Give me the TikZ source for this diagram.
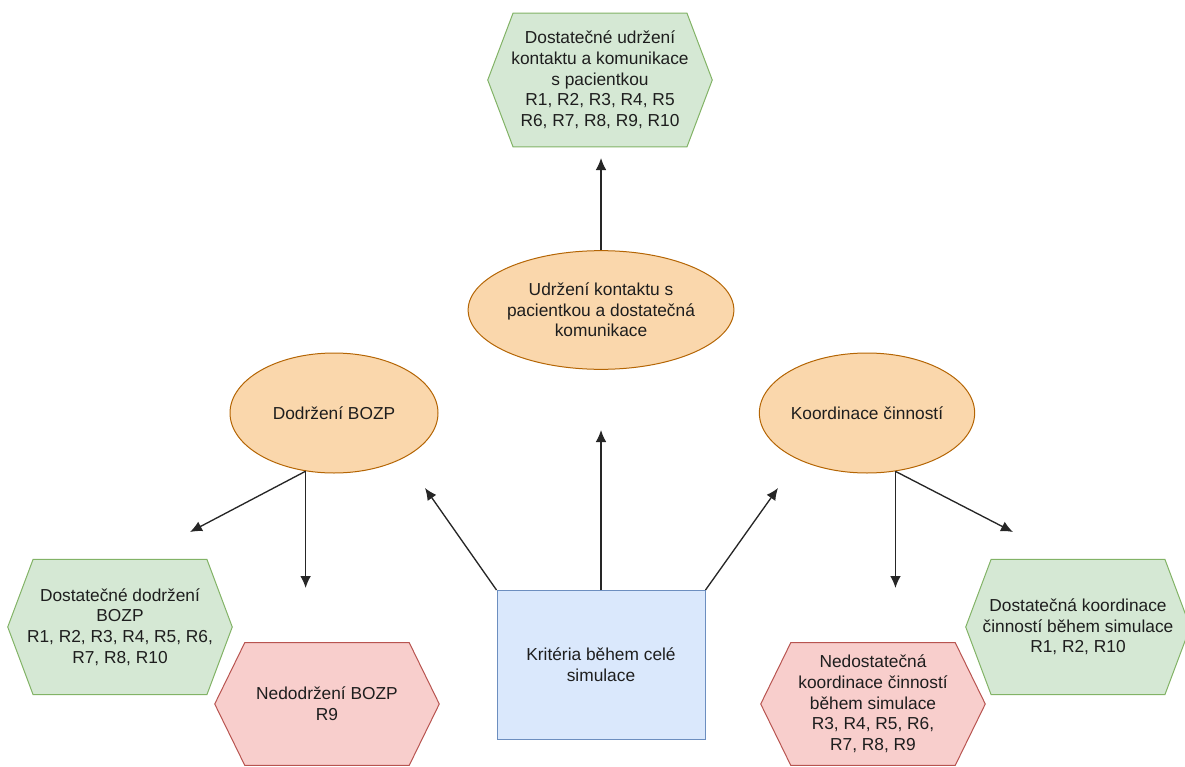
\documentclass[tikz,border=0pt]{standalone}
\usepackage{fontspec}
\setmainfont{Liberation Sans}
\usetikzlibrary{arrows.meta,backgrounds,shapes.geometric}
\definecolor{gfill}{HTML}{D5E8D4}
\definecolor{gline}{HTML}{82B366}
\definecolor{rfill}{HTML}{F8CECC}
\definecolor{rline}{HTML}{B85450}
\definecolor{ofill}{HTML}{FAD7AC}
\definecolor{oline}{HTML}{B46504}
\definecolor{bfill}{HTML}{DAE8FC}
\definecolor{bline}{HTML}{6C8EBF}
\definecolor{txt}{HTML}{1E1E1E}
\newcommand\hexshape[3]{%
  \begin{pgfonlayer}{background}
  \path[#3] ([xshift=#2]#1.north west) -- ([xshift=-#2]#1.north east) -- (#1.east)
    -- ([xshift=-#2]#1.south east) -- ([xshift=#2]#1.south west) -- (#1.west) -- cycle;
  \end{pgfonlayer}}
\tikzset{
  lbl/.style={align=center, text=txt, font=\fontsize{13}{15.5}\selectfont, inner sep=0pt},
  hexbox/.style={lbl, rectangle, minimum width=168pt, minimum height=100pt},
  redbox/.style={lbl, rectangle, minimum width=168pt, minimum height=91.5pt},
  greenhex/.style={fill=gfill, draw=gline, line width=0.75pt, line join=miter},
  redhex/.style={fill=rfill, draw=rline, line width=0.75pt, line join=miter},
  oval/.style={lbl, ellipse, fill=ofill, draw=oline, line width=0.75pt, minimum width=156pt, minimum height=89pt},
  bluebox/.style={lbl, rectangle, fill=bfill, draw=bline, line width=0.75pt, minimum width=156pt, minimum height=111.75pt},
  arr/.style={draw=black!85, line width=1pt, -{Latex[length=9pt,width=8pt]}}
}
\begin{document}
\begin{tikzpicture}[x=0.75pt,y=-0.75pt]
\useasboundingbox (0,0) rectangle (1185,767);
% hexagon result nodes
\node[hexbox] (top) at (600,80) {Dostatečné udržení\\kontaktu a komunikace\\s pacientkou\\R1, R2, R3, R4, R5\\R6, R7, R8, R9, R10};
\hexshape{top}{19pt}{greenhex}
\node[hexbox, minimum height=101pt] (lgreen) at (120,627) {Dostatečné dodržení\\BOZP\\R1, R2, R3, R4, R5, R6,\\R7, R8, R10};
\hexshape{lgreen}{19pt}{greenhex}
\node[redbox] (lred) at (327,704) {Nedodržení BOZP\\R9};
\hexshape{lred}{22.5pt}{redhex}
\node[redbox] (rred) at (873,704) {Nedostatečná\\koordinace činností\\během simulace\\R3, R4, R5, R6,\\R7, R8, R9};
\hexshape{rred}{22.5pt}{redhex}
\node[hexbox, minimum height=101pt] (rgreen) at (1078,627) {Dostatečná koordinace\\činností během simulace\\R1, R2, R10};
\hexshape{rgreen}{19pt}{greenhex}
% ellipses
\node[oval] (udr) at (601,310) {Udržení kontaktu s\\pacientkou a dostatečná\\komunikace};
\node[oval, minimum height=90pt] (bozp) at (334,413) {Dodržení BOZP};
\node[oval, minimum height=90pt] (koord) at (867,413) {Koordinace činností};
% central box
\node[bluebox] (crit) at (601,665) {Kritéria během celé\\simulace};
% free arrow ends
\coordinate (sB) at (bozp.244);
\coordinate (sK) at (koord.296);
\coordinate (eTop) at (601,158);
\coordinate (eMid) at (601,430);
\coordinate (eL) at (425,488);
\coordinate (eR) at (778,488);
\coordinate (eBd) at (sB |- 0,588);
\coordinate (eBl) at (190,532);
\coordinate (eKd) at (sK |- 0,588);
\coordinate (eKr) at (1013,532);
% connectors
\draw[arr] (udr.north) -- (eTop);
\draw[arr] (crit.north) -- (eMid);
\draw[arr] (crit.north west) -- (eL);
\draw[arr] (crit.north east) -- (eR);
\draw[arr] (sB) -- (eBd);
\draw[arr] (sB) -- (eBl);
\draw[arr] (sK) -- (eKd);
\draw[arr] (sK) -- (eKr);
\end{tikzpicture}
\end{document}
